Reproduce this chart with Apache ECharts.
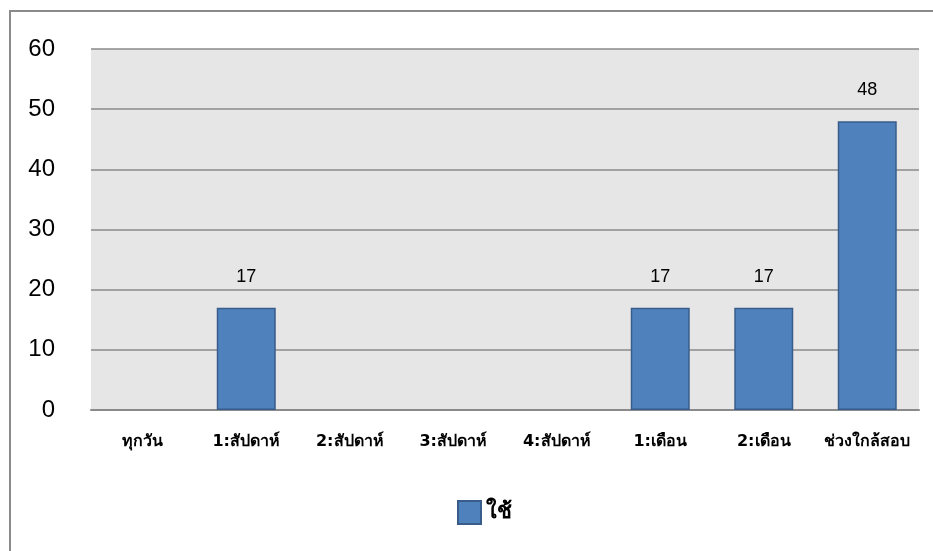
<!DOCTYPE html>
<html><head><meta charset="utf-8">
<script src="https://cdn.jsdelivr.net/npm/echarts@6/dist/echarts.min.js"></script>
<style>html,body{margin:0;padding:0;background:#fff}#c{width:933px;height:551px}</style>
</head><body><div id="c"></div>
<script>
const categories = ['ทุกวัน','1:สัปดาห์','2:สัปดาห์','3:สัปดาห์','4:สัปดาห์','1:เดือน','2:เดือน','ช่วงใกล้สอบ'];
const seriesName = 'ใช้';
const values = [0, 17, 0, 0, 0, 17, 17, 48];
const yTicks = {min: 0, max: 60, interval: 10};

const FONT = '"DejaVu Sans", "Noto Sans", sans-serif';
const NUMFONT = '"Liberation Sans", "DejaVu Sans", sans-serif';
const barData = values.map(v => v > 0 ? v : {value: v, itemStyle: {borderWidth: 0, opacity: 0}});
const chart = echarts.init(document.getElementById('c'), null, {renderer: 'canvas'});
chart.setOption({
  animation: false,
  backgroundColor: '#fff',
  graphic: [{
    type: 'rect', shape: {x: 10, y: 11, width: 940, height: 560},
    style: {fill: 'none', stroke: '#8a8a8a', lineWidth: 2}, z: -1
  }],
  grid: {left: 91, right: 14, top: 49, bottom: 141, backgroundColor: '#e6e6e6', show: true, borderWidth: 0},
  legend: {
    left: 452, top: 495, itemWidth: 23, itemHeight: 23, itemGap: 8,
    icon: 'rect',
    textStyle: {fontSize: 22, fontWeight: 'bold', color: '#000', fontFamily: FONT},
    data: [seriesName]
  },
  xAxis: {
    type: 'category', data: categories,
    axisLine: {lineStyle: {color: '#8a8a8a', width: 2}},
    axisTick: {show: false},
    axisLabel: {color: '#000', fontSize: 16, fontWeight: 'bold', margin: 24, interval: 0, fontFamily: FONT}
  },
  yAxis: {
    type: 'value', min: yTicks.min, max: yTicks.max, interval: yTicks.interval,
    axisLine: {show: false}, axisTick: {show: false},
    axisLabel: {color: '#000', fontSize: 24, margin: 36, fontFamily: NUMFONT},
    splitLine: {lineStyle: {color: '#8a8a8a', width: 1.5}}
  },
  series: [{
    name: seriesName, type: 'bar', data: barData, barWidth: 59,
    itemStyle: {color: '#4f81bd', borderColor: '#385d8a', borderWidth: 1.5},
    label: {
      show: true, position: 'top', distance: 22, color: '#000', fontSize: 18, fontFamily: NUMFONT,
      formatter: p => p.value > 0 ? String(p.value) : ''
    }
  }]
});
</script></body></html>
